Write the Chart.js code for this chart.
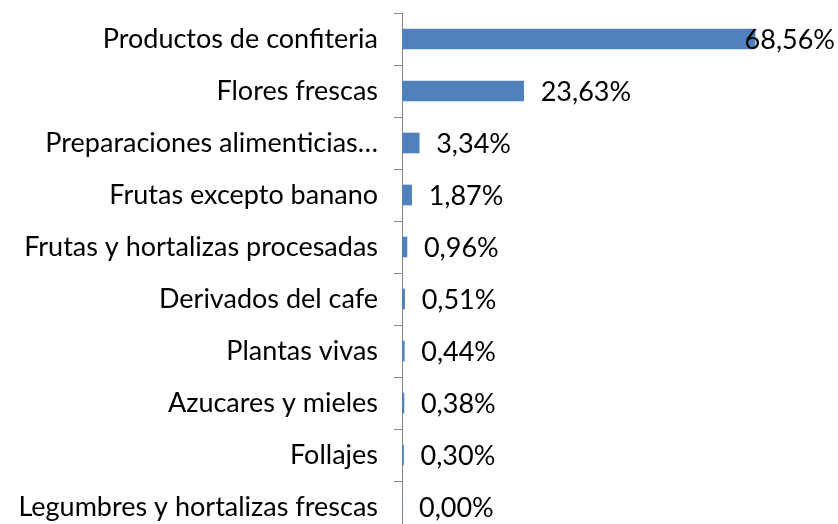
<!DOCTYPE html>
<html>
<head>
<meta charset="utf-8">
<script src="https://cdn.jsdelivr.net/npm/chart.js@4/dist/chart.umd.min.js"></script>
<style>
  html, body { margin: 0; padding: 0; background: #fff; overflow: hidden; }
</style>
</head>
<body>
<canvas id="exportChart" width="838" height="540"></canvas>
<script>
const categories = [
    'Productos de confiteria',
    'Flores frescas',
    'Preparaciones alimenticias…',
    'Frutas excepto banano',
    'Frutas y hortalizas procesadas',
    'Derivados del cafe',
    'Plantas vivas',
    'Azucares y mieles',
    'Follajes',
    'Legumbres y hortalizas frescas'
];
const shares = [68.56, 23.63, 3.34, 1.87, 0.96, 0.51, 0.44, 0.38, 0.30, 0.00];
const axisMax = 80;

const FONT = 'Lato, "Open Sans", sans-serif';
const FONT_SIZE = 27;

// value labels to the right of each bar, pulled back in when they'd run off the canvas
const valueLabels = {
    id: 'valueLabels',
    afterDatasetsDraw(chart) {
        const ctx = chart.ctx;
        const meta = chart.getDatasetMeta(0);
        ctx.save();
        ctx.font = FONT_SIZE + 'px ' + FONT;
        ctx.fillStyle = '#000';
        ctx.textBaseline = 'middle';
        ctx.textAlign = 'left';
        meta.data.forEach((bar, i) => {
            const text = shares[i].toFixed(2).replace('.', ',') + '%';
            const w = ctx.measureText(text).width;
            let x = bar.x + 17;
            if (x + w > chart.width - 3) x = chart.width - 3 - w;
            ctx.fillText(text, x, bar.y + 1);
        });
        ctx.restore();
    }
};

const ctx = document.getElementById('exportChart').getContext('2d');
new Chart(ctx, {
    type: 'bar',
    data: {
        labels: categories,
        datasets: [{
            data: shares,
            backgroundColor: '#4F81BD',
            borderWidth: 0,
            barThickness: 20
        }]
    },
    options: {
        indexAxis: 'y',
        responsive: false,
        animation: false,
        events: [],
        layout: { padding: { top: 13, bottom: 7, right: 24, left: 0 } },
        plugins: {
            legend: { display: false },
            tooltip: { enabled: false }
        },
        scales: {
            x: {
                display: false,
                min: 0,
                max: axisMax
            },
            y: {
                afterFit(scale) {
                    scale.width = 402;
                    scale.paddingTop = 0;
                    scale.paddingBottom = 0;
                },
                grid: {
                    drawOnChartArea: false,
                    drawTicks: true,
                    tickLength: 8,
                    color: '#868686',
                    offset: true
                },
                border: { display: true, color: '#868686', width: 1 },
                ticks: {
                    color: '#000',
                    padding: 16,
                    autoSkip: false,
                    font: { family: FONT, size: FONT_SIZE }
                }
            }
        }
    },
    plugins: [valueLabels]
});
</script>
</body>
</html>
